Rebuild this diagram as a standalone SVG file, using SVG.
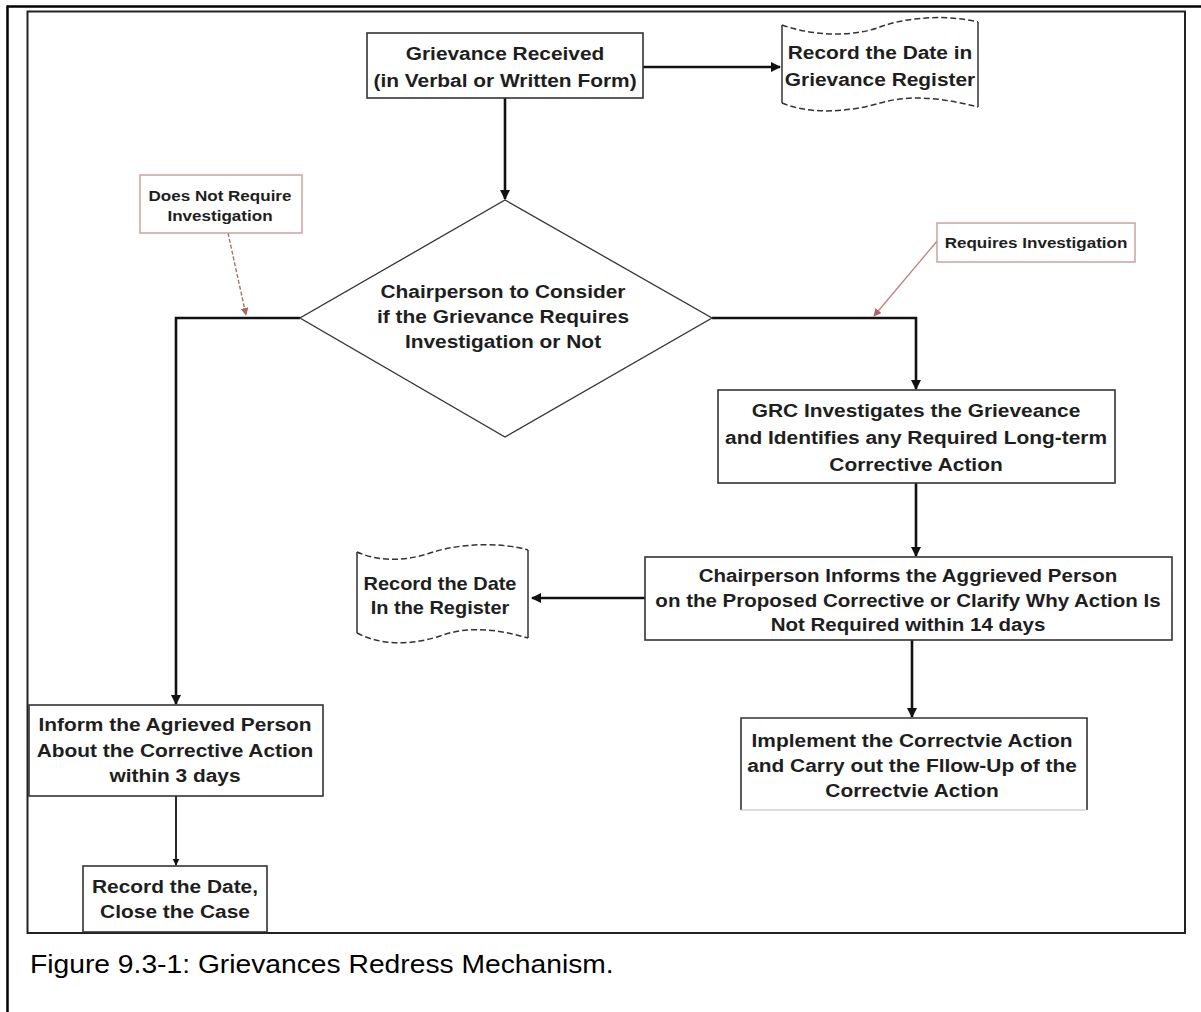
<svg xmlns="http://www.w3.org/2000/svg" width="1201" height="1012" viewBox="0 0 1201 1012">
<defs>
<style>
.t{font-family:"Liberation Sans",Arial,sans-serif;font-weight:bold;font-size:19px;fill:#1e1e1e;text-anchor:middle}
.lbl{font-family:"Liberation Sans",Arial,sans-serif;font-weight:bold;font-size:15.5px;fill:#1e1e1e;text-anchor:middle}
.cap{font-family:"Liberation Sans",Arial,sans-serif;font-size:25px;fill:#000}
.box{fill:#fff;stroke:#333;stroke-width:1.6}
.lbox{fill:#fff;stroke:#c9a3a3;stroke-width:1.5}
.con{fill:none;stroke:#111;stroke-width:2.6}
.thin{fill:none;stroke:#111;stroke-width:1.8}
.wave{fill:none;stroke:#333;stroke-width:1.5;stroke-dasharray:6 3}
.side{fill:none;stroke:#333;stroke-width:1.5}
</style>
<marker id="ah" viewBox="0 0 10 10" refX="9" refY="5" markerWidth="4" markerHeight="4" orient="auto" markerUnits="strokeWidth">
<path d="M0,0 L10,5 L0,10 Z" fill="#111"/>
</marker>
<marker id="ahr" viewBox="0 0 10 10" refX="9" refY="5" markerWidth="6" markerHeight="6" orient="auto" markerUnits="strokeWidth">
<path d="M0,0 L10,5 L0,10 Z" fill="#b06060"/>
</marker>
</defs>
<rect x="0" y="0" width="1201" height="1012" fill="#fff"/>
<g id="page">
<line x1="7" y1="6.5" x2="1201" y2="6.5" stroke="#000" stroke-width="2.5"/>
<line x1="7.5" y1="5.5" x2="7.5" y2="1012" stroke="#000" stroke-width="2.5"/>
<rect x="27.5" y="11.5" width="1157.5" height="921.5" fill="none" stroke="#222" stroke-width="2"/>
<text class="cap" transform="translate(30 973) scale(1.13 1)">Figure 9.3-1: Grievances Redress Mechanism.</text>
</g>
<g id="connectors">
<line class="con" x1="643" y1="67" x2="780" y2="67" marker-end="url(#ah)"/>
<line class="con" x1="505" y1="98" x2="505" y2="199" marker-end="url(#ah)"/>
<polyline class="con" points="300,318 176,318 176,704" marker-end="url(#ah)"/>
<polyline class="con" points="712,318 916,318 916,389" marker-end="url(#ah)"/>
<line class="con" x1="916" y1="483" x2="916" y2="556" marker-end="url(#ah)"/>
<line class="con" x1="645" y1="598" x2="532" y2="598" marker-end="url(#ah)"/>
<line class="con" x1="912" y1="640" x2="912" y2="717" marker-end="url(#ah)"/>
<line class="thin" x1="176" y1="796" x2="176" y2="865" marker-end="url(#ah)"/>
<line x1="228" y1="233" x2="246" y2="315" stroke="#b06060" stroke-width="1.3" stroke-dasharray="4 2" marker-end="url(#ahr)"/>
<line x1="938" y1="240" x2="874" y2="316" stroke="#c08080" stroke-width="1.3" marker-end="url(#ahr)"/>
</g>
<g id="n-received">
<rect class="box" x="367" y="33" width="276" height="65"/>
<text class="t" transform="translate(505 60) scale(1.1 1)">Grievance Received</text>
<text class="t" transform="translate(505 87) scale(1.1 1)">(in Verbal or Written Form)</text>
</g>
<g id="n-register1">
<path d="M782,25 C810,35 850,38 880,27 C910,16 950,15 978,22 L978,107 C950,100 915,93 880,103 C850,112 810,115 782,103 Z" fill="#fff"/>
<path class="side" d="M782,25 L782,103 M978,22 L978,107"/>
<path class="wave" d="M782,25 C810,35 850,38 880,27 C910,16 950,15 978,22"/>
<path class="wave" d="M782,103 C810,115 850,112 880,103 C915,93 950,100 978,107"/>
<text class="t" transform="translate(880 59) scale(1.1 1)">Record the Date in</text>
<text class="t" transform="translate(880 86) scale(1.1 1)">Grievance Register</text>
</g>
<g id="n-decision">
<polygon points="505,200 712,318 505,437 300,318" fill="#fff" stroke="#333" stroke-width="1.3"/>
<text class="t" transform="translate(503 298) scale(1.1 1)">Chairperson to Consider</text>
<text class="t" transform="translate(503 323) scale(1.1 1)">if the Grievance Requires</text>
<text class="t" transform="translate(503 348) scale(1.1 1)">Investigation or Not</text>
</g>
<g id="l-notreq">
<rect class="lbox" x="140" y="175" width="162" height="58"/>
<text class="lbl" transform="translate(220 201) scale(1.1 1)">Does Not Require</text>
<text class="lbl" transform="translate(220 221) scale(1.1 1)">Investigation</text>
</g>
<g id="l-req">
<rect class="lbox" x="937" y="223" width="198" height="39"/>
<text class="lbl" transform="translate(1036 248) scale(1.1 1)">Requires Investigation</text>
</g>
<g id="n-grc">
<rect class="box" x="718" y="390" width="397" height="93"/>
<text class="t" transform="translate(916 417) scale(1.1 1)">GRC Investigates the Grieveance</text>
<text class="t" transform="translate(916 444) scale(1.1 1)">and Identifies any Required Long-term</text>
<text class="t" transform="translate(916 471) scale(1.1 1)">Corrective Action</text>
</g>
<g id="n-inform-aggrieved">
<rect class="box" x="645" y="557" width="527" height="83"/>
<text class="t" transform="translate(908 582) scale(1.08 1)">Chairperson Informs the Aggrieved  Person</text>
<text class="t" transform="translate(908 607) scale(1.08 1)">on the Proposed  Corrective or Clarify Why Action Is</text>
<text class="t" transform="translate(908 631) scale(1.08 1)">Not Required within 14 days</text>
</g>
<g id="n-register2">
<path d="M357,552 C375,560 400,563 430,553 C460,543 500,542 528,550 L528,638 C500,630 470,625 440,636 C410,646 380,645 357,633 Z" fill="#fff"/>
<path class="side" d="M357,552 L357,633 M528,550 L528,638"/>
<path class="wave" d="M357,552 C375,560 400,563 430,553 C460,543 500,542 528,550"/>
<path class="wave" d="M357,633 C380,645 410,646 440,636 C470,625 500,630 528,638"/>
<text class="t" transform="translate(440 590) scale(1.05 1)">Record the Date</text>
<text class="t" transform="translate(440 614) scale(1.05 1)">In the Register</text>
</g>
<g id="n-implement">
<path d="M741,810 L741,718 L1087,718 L1087,810" fill="#fff" stroke="#333" stroke-width="1.6"/>
<line x1="741" y1="810" x2="1087" y2="810" stroke="#bbb" stroke-width="1"/>
<text class="t" transform="translate(912 747) scale(1.1 1)">Implement  the Correctvie Action</text>
<text class="t" transform="translate(912 772) scale(1.1 1)">and Carry out the Fllow-Up of the</text>
<text class="t" transform="translate(912 797) scale(1.1 1)">Correctvie Action</text>
</g>
<g id="n-inform">
<rect class="box" x="29" y="705" width="294" height="91"/>
<text class="t" transform="translate(175 731) scale(1.1 1)">Inform the Agrieved Person</text>
<text class="t" transform="translate(175 757) scale(1.1 1)">About the Corrective Action</text>
<text class="t" transform="translate(175 782) scale(1.1 1)">within 3 days</text>
</g>
<g id="n-close">
<rect class="box" x="83" y="866" width="184" height="66"/>
<text class="t" transform="translate(175 893) scale(1.1 1)">Record the Date,</text>
<text class="t" transform="translate(175 918) scale(1.1 1)">Close the Case</text>
</g>
</svg>
